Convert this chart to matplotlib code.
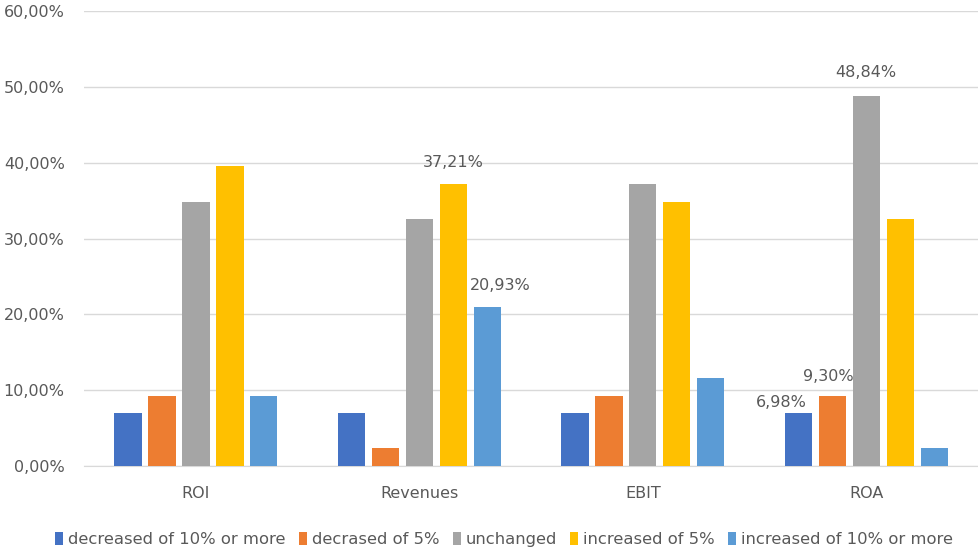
import numpy as np
import matplotlib.pyplot as plt
from matplotlib.ticker import FuncFormatter

# survey shares per indicator (counts out of 43 respondents)
categories = ["ROI", "Revenues", "EBIT", "ROA"]
series_names = ["decreased of 10% or more", "decrased of 5%", "unchanged",
                "increased of 5%", "increased of 10% or more"]
dec10 = [6.98, 6.98, 6.98, 6.98]
dec5 = [9.30, 2.33, 9.30, 9.30]
unchanged = [34.88, 32.56, 37.21, 48.84]
inc5 = [39.53, 37.21, 34.88, 32.56]
inc10 = [9.30, 20.93, 11.63, 2.33]

colors = ["#4472C4", "#ED7D31", "#A5A5A5", "#FFC000", "#5B9BD5"]
text_col = "#595959"

fig = plt.figure(figsize=(9.79, 5.51), dpi=100)
ax = fig.add_axes([0.086, 0.154, 0.913, 0.826])

x = np.arange(len(categories))
step = 0.152
width = 0.122
all_series = [dec10, dec5, unchanged, inc5, inc10]
bars = []
for i, (vals, name, c) in enumerate(zip(all_series, series_names, colors)):
    b = ax.bar(x + (i - 2) * step, vals, width, color=c, label=name, zorder=3)
    bars.append(b)

# value labels shown on a few bars only
def label(series_idx, cat_idx, dx=0, dy=10, ha="center"):
    rect = bars[series_idx][cat_idx]
    v = all_series[series_idx][cat_idx]
    ax.annotate(f"{v:.2f}%".replace(".", ","),
                (rect.get_x() + rect.get_width() / 2, v),
                xytext=(dx, dy), textcoords="offset points",
                ha=ha, va="bottom", fontsize=11.5, color=text_col)

label(3, 1)
label(4, 1, dx=9)
label(2, 3, dy=11)
label(1, 3, dx=-3, dy=8)
label(0, 3, dx=-12, dy=2)

ax.set_ylim(0, 60)
ax.set_xlim(-0.5, len(categories) - 0.5)
ax.set_yticks(np.arange(0, 61, 10))
ax.yaxis.set_major_formatter(FuncFormatter(lambda v, p: f"{v:.2f}%".replace(".", ",")))
ax.set_xticks(x)
ax.set_xticklabels(categories)
ax.tick_params(axis="both", length=0, labelsize=11.5, labelcolor=text_col)
ax.tick_params(axis="y", pad=14)
ax.tick_params(axis="x", pad=14)
ax.grid(axis="y", color="#D9D9D9", linewidth=1, zorder=0)
for s in ["top", "right", "left"]:
    ax.spines[s].set_visible(False)
ax.spines["bottom"].set_color("#D9D9D9")

fig.legend(loc="lower center", bbox_to_anchor=(0.515, -0.02), ncol=5, frameon=False,
           handlelength=0.5, handleheight=0.8, handletextpad=0.3, columnspacing=0.8,
           prop={"size": 11.8}, labelcolor=text_col)

fig.savefig("out.png", dpi=100)
